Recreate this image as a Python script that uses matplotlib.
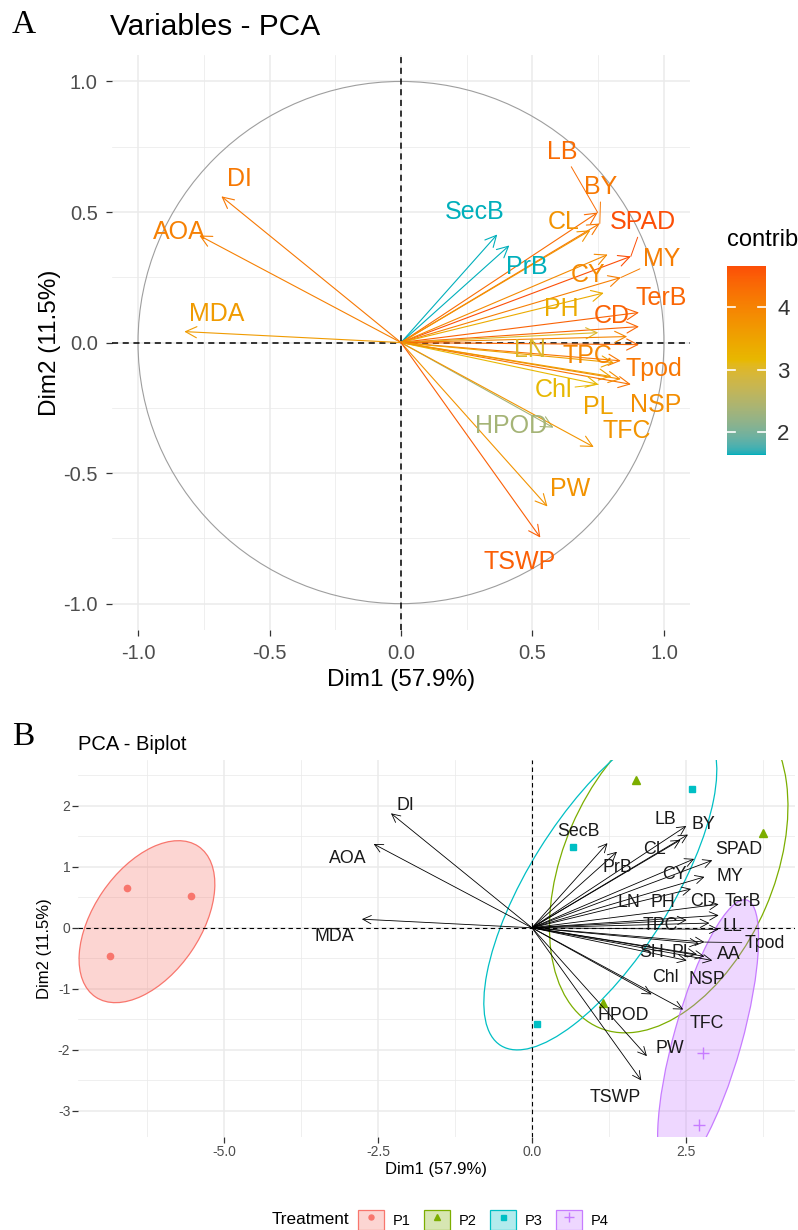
import numpy as np
import matplotlib.pyplot as plt
import matplotlib.colorbar as mcolorbar
from matplotlib.colors import ListedColormap, Normalize, to_rgb, to_rgba
from matplotlib.patches import Circle, Ellipse, Patch
from matplotlib.lines import Line2D
from matplotlib.legend_handler import HandlerTuple

plt.rcParams['font.family'] = ['Liberation Sans', 'DejaVu Sans']
plt.rcParams['axes.unicode_minus'] = False

# variable coordinates on Dim1 / Dim2 (correlation circle)
variables = ['DI', 'AOA', 'MDA', 'SecB', 'PrB', 'LB', 'BY', 'CL', 'SPAD', 'CY', 'MY', 'PH',
             'CD', 'TerB', 'LN', 'TPC', 'LL', 'Tpod', 'SH', 'PL', 'AA', 'Chl', 'NSP',
             'HPOD', 'TFC', 'PW', 'TSWP']
dim1 = [-0.683, -0.767, -0.824, 0.366, 0.412, 0.748, 0.756, 0.72, 0.874, 0.786, 0.836, 0.771,
        0.905, 0.905, 0.75, 0.86, 0.905, 0.836, 0.81, 0.80, 0.874, 0.75, 0.836,
        0.58, 0.733, 0.557, 0.53]
dim2 = [0.56, 0.41, 0.042, 0.414, 0.372, 0.498, 0.456, 0.43, 0.33, 0.337, 0.249, 0.19,
        0.115, 0.061, 0.038, 0.023, -0.008, -0.07, -0.077, -0.13, -0.16, -0.16, -0.14,
        -0.326, -0.40, -0.628, -0.747]
contrib = [4.16, 4.04, 3.63, 1.63, 1.64, 4.31, 4.16, 3.75, 4.66, 3.90, 4.06, 3.36,
           4.44, 4.39, 3.01, 3.95, 4.37, 4.17, 3.53, 3.51, 4.21, 3.14, 3.83,
           2.36, 3.72, 3.76, 4.48]

# individuals
groups = ['P1', 'P2', 'P3', 'P4']
ind_group = ['P1', 'P1', 'P1', 'P2', 'P2', 'P2', 'P3', 'P3', 'P3', 'P4', 'P4']
ind_x = [-6.57, -5.54, -6.85, 1.69, 3.75, 1.15, 2.60, 0.66, 0.08, 2.78, 2.71]
ind_y = [0.66, 0.52, -0.46, 2.43, 1.56, -1.23, 2.28, 1.33, -1.57, -2.05, -3.23]

# group ellipses (centre, semi axes, angle)
ell_cx = [-6.25, 2.22, 1.11, 2.86]
ell_cy = [0.10, 1.00, 0.68, -1.80]
ell_a = [1.49, 2.87, 3.07, 2.34]
ell_b = [0.87, 1.71, 1.16, 0.55]
ell_angle = [56, 66.8, 58.3, 74.5]
ell_fill = [0.3, 0.0, 0.0, 0.3]

# label placement (repelled positions as seen)
lab_a = [(-0.615, 0.625), (-0.844, 0.425), (-0.70, 0.11), (0.28, 0.50), (0.48, 0.29),
         (0.615, 0.73), (0.76, 0.595), (0.62, 0.46), (0.92, 0.46), (0.71, 0.26),
         (0.99, 0.32), (0.61, 0.13), (0.80, 0.10), (0.99, 0.17), (0.49, -0.03),
         (0.71, -0.05), None, (0.96, -0.10), None, (0.75, -0.245), None,
         (0.58, -0.18), (0.97, -0.24), (0.42, -0.32), (0.86, -0.34), (0.645, -0.56),
         (0.45, -0.84)]
seg_a = ['LB', 'BY', 'SPAD', 'MY', 'Chl']
lab_b = [(-2.06, 2.0), (-2.99, 1.13), (-3.21, -0.15), (0.75, 1.58), (1.38, 0.98),
         (2.16, 1.77), (2.78, 1.69), (1.99, 1.28), (3.35, 1.28), (2.32, 0.87),
         (3.21, 0.84), (2.13, 0.41), (2.78, 0.43), (3.42, 0.43), (1.57, 0.41),
         (2.08, 0.03), (3.26, 0.02), (3.78, -0.25), (1.95, -0.41), (2.45, -0.41),
         (3.19, -0.43), (2.16, -0.82), (2.84, -0.85), (1.48, -1.43), (2.84, -1.57),
         (2.24, -1.98), (1.35, -2.79)]
seg_b = ['Tpod']
biplot_scale = 3.35


# gradient interpolated in CIELAB, like ggplot's colour ramps
def to_lab(rgb):
    c = np.array(rgb, dtype=float)
    c = np.where(c <= 0.04045, c / 12.92, ((c + 0.055) / 1.055) ** 2.4)
    m = np.array([[0.4124, 0.3576, 0.1805], [0.2126, 0.7152, 0.0722], [0.0193, 0.1192, 0.9505]])
    xyz = m @ c / np.array([0.95047, 1.0, 1.08883])
    f = np.where(xyz > 0.008856, np.cbrt(xyz), 7.787 * xyz + 16 / 116)
    return np.array([116 * f[1] - 16, 500 * (f[0] - f[1]), 200 * (f[1] - f[2])])


def from_lab(lab):
    fy = (lab[0] + 16) / 116
    f = np.array([fy + lab[1] / 500, fy, fy - lab[2] / 200])
    xyz = np.where(f ** 3 > 0.008856, f ** 3, (f - 16 / 116) / 7.787) * np.array([0.95047, 1.0, 1.08883])
    m = np.array([[3.2406, -1.5372, -0.4986], [-0.9689, 1.8758, 0.0415], [0.0557, -0.2040, 1.0570]])
    c = m @ xyz
    c = np.where(c <= 0.0031308, 12.92 * c, 1.055 * np.clip(c, 0, None) ** (1 / 2.4) - 0.055)
    return np.clip(c, 0, 1)


grad_cols = ['#00AFBB', '#E7B800', '#FC4E07']
labs = [to_lab(to_rgb(h)) for h in grad_cols]
ramp = []
for t in np.linspace(0, 1, 256):
    s = t * (len(labs) - 1)
    k = min(int(s), len(labs) - 2)
    u = s - k
    ramp.append(from_lab(labs[k] * (1 - u) + labs[k + 1] * u))
cmap = ListedColormap(ramp)
norm = Normalize(vmin=min(contrib), vmax=max(contrib))

grp_col = {'P1': '#F8766D', 'P2': '#7CAE00', 'P3': '#00BFC4', 'P4': '#C77CFF'}
grp_mark = {'P1': 'o', 'P2': '^', 'P3': 's', 'P4': '+'}
grp_ms = {'P1': 4.5, 'P2': 5.5, 'P3': 4.5, 'P4': 9}


def style_axes(ax, tick_size, pad):
    for s in ax.spines.values():
        s.set_visible(False)
    ax.grid(True, which='major', color='#EBEBEB', lw=1.1, zorder=0)
    ax.grid(True, which='minor', color='#EBEBEB', lw=0.55, zorder=0)
    ax.tick_params(which='major', length=4, width=0.9, color='#333333',
                   labelsize=tick_size, labelcolor='#4D4D4D', pad=pad)
    ax.tick_params(which='minor', length=0)
    ax.set_axisbelow(True)


fig = plt.figure(figsize=(7.98, 12.30), dpi=100)

# ---------------- panel A ----------------
axA = fig.add_axes([0.140, 0.488, 0.725, 0.467])
axA.set_xlim(-1.1, 1.1)
axA.set_ylim(-1.1, 1.1)
axA.set_xticks([-1, -0.5, 0, 0.5, 1])
axA.set_xticklabels(['-1.0', '-0.5', '0.0', '0.5', '1.0'])
axA.set_yticks([-1, -0.5, 0, 0.5, 1])
axA.set_yticklabels(['-1.0', '-0.5', '0.0', '0.5', '1.0'])
axA.set_xticks([-0.75, -0.25, 0.25, 0.75], minor=True)
axA.set_yticks([-0.75, -0.25, 0.25, 0.75], minor=True)
style_axes(axA, 14.5, 6)

axA.add_patch(Circle((0, 0), 1, fill=False, color='#9E9E9E', lw=0.8, zorder=1))
axA.axhline(0, color='black', lw=1.1, ls=(0, (4, 3)), zorder=1)
axA.axvline(0, color='black', lw=1.1, ls=(0, (4, 3)), zorder=1)

for i, name in enumerate(variables):
    c = cmap(norm(contrib[i]))
    axA.annotate('', xy=(dim1[i], dim2[i]), xytext=(0, 0),
                 arrowprops=dict(arrowstyle='->,head_length=0.8,head_width=0.4',
                                 color=c, lw=0.8, shrinkA=0, shrinkB=0), zorder=3)
for i, name in enumerate(variables):
    if lab_a[i] is None:
        continue
    c = cmap(norm(contrib[i]))
    if name in seg_a:
        axA.annotate(name, xy=(dim1[i], dim2[i]), xytext=lab_a[i], color=c,
                     fontsize=18, ha='center', va='center',
                     arrowprops=dict(arrowstyle='-', color=c, lw=0.7,
                                     shrinkA=0, shrinkB=0), zorder=4)
    else:
        axA.text(lab_a[i][0], lab_a[i][1], name, color=c, fontsize=18,
                 ha='center', va='center', zorder=4)

axA.set_xlabel('Dim1 (57.9%)', fontsize=17.5)
axA.set_ylabel('Dim2 (11.5%)', fontsize=17.5)
axA.xaxis.set_label_coords(0.5, -0.087)
axA.xaxis.label.set_va('center')
axA.yaxis.set_label_coords(-0.107, 0.5)
axA.yaxis.label.set_va('center')

fig.text(110 / 798, 1 - 27 / 1230, 'Variables - PCA', fontsize=21.5, va='center')
fig.text(12 / 798, 1 - 25 / 1230, 'A', fontsize=24, va='center',
         family=['Liberation Serif', 'DejaVu Serif'])

# colour bar
cax = fig.add_axes([727 / 798, 1 - 455 / 1230, 39 / 798, (455 - 266) / 1230])
cb = mcolorbar.ColorbarBase(cax, cmap=cmap, norm=norm, orientation='vertical')
cb.outline.set_visible(False)
cb.set_ticks([2, 3, 4])
cax.tick_params(length=0, labelsize=16, labelcolor='#333333', pad=8)
for t in [2, 3, 4]:
    cax.plot([0, 0.2], [t, t], color='white', lw=1.2, transform=cax.get_yaxis_transform())
    cax.plot([0.8, 1.0], [t, t], color='white', lw=1.2, transform=cax.get_yaxis_transform())
fig.text(727 / 798, 1 - 240 / 1230, 'contrib', fontsize=17, va='center')

# ---------------- panel B ----------------
axB = fig.add_axes([0.0977, 0.0756, 0.8985, 0.3065])
axB.set_xlim(-7.37, 4.27)
axB.set_ylim(-3.43, 2.75)
axB.set_xticks([-5, -2.5, 0, 2.5])
axB.set_xticklabels(['-5.0', '-2.5', '0.0', '2.5'])
axB.set_xticks([-6.25, -3.75, -1.25, 1.25, 3.75], minor=True)
axB.set_yticks([-3, -2, -1, 0, 1, 2])
axB.set_yticklabels(['-3', '-2', '-1', '0', '1', '2'])
axB.set_yticks([-2.5, -1.5, -0.5, 0.5, 1.5, 2.5], minor=True)
style_axes(axB, 10, 1.5)

for k, g in enumerate(groups):
    col = grp_col[g]
    axB.add_patch(Ellipse((ell_cx[k], ell_cy[k]), 2 * ell_a[k], 2 * ell_b[k],
                          angle=ell_angle[k], facecolor=to_rgba(col, ell_fill[k]),
                          edgecolor=col, lw=0.9, zorder=1))

axB.axhline(0, color='black', lw=0.8, ls=(0, (4, 3)), zorder=2)
axB.axvline(0, color='black', lw=0.8, ls=(0, (4, 3)), zorder=2)

for g in groups:
    xs = [x for x, gg in zip(ind_x, ind_group) if gg == g]
    ys = [y for y, gg in zip(ind_y, ind_group) if gg == g]
    axB.plot(xs, ys, ls='none', marker=grp_mark[g], color=grp_col[g],
             ms=grp_ms[g], mew=1.0, zorder=3)

for i, name in enumerate(variables):
    tip = (dim1[i] * biplot_scale, dim2[i] * biplot_scale)
    axB.annotate('', xy=tip, xytext=(0, 0),
                 arrowprops=dict(arrowstyle='->,head_length=0.6,head_width=0.3',
                                 color='black', lw=0.6, shrinkA=0, shrinkB=0), zorder=4)
for i, name in enumerate(variables):
    tip = (dim1[i] * biplot_scale, dim2[i] * biplot_scale)
    if name in seg_b:
        axB.annotate(name, xy=tip, xytext=lab_b[i], color='#1A1A1A', fontsize=12.8,
                     ha='center', va='center',
                     arrowprops=dict(arrowstyle='-', color='#1A1A1A', lw=0.6,
                                     shrinkA=0, shrinkB=0), zorder=5)
    else:
        axB.text(lab_b[i][0], lab_b[i][1], name, color='#1A1A1A', fontsize=12.8,
                 ha='center', va='center', zorder=5)

axB.set_xlabel('Dim1 (57.9%)', fontsize=12)
axB.set_ylabel('Dim2 (11.5%)', fontsize=12)
axB.xaxis.set_label_coords(0.5, -0.0875)
axB.xaxis.label.set_va('center')
axB.yaxis.set_label_coords(-0.046, 0.5)
axB.yaxis.label.set_va('center')

fig.text(78 / 798, 1 - 745 / 1230, 'PCA - Biplot', fontsize=14.5, va='center')
fig.text(12 / 798, 1 - 737 / 1230, 'B', fontsize=24, va='center',
         family=['Liberation Serif', 'DejaVu Serif'])

# legend
fig.text(272 / 798, 1 - 1220 / 1230, 'Treatment', fontsize=12.3, va='center')
handles = []
for g in groups:
    box = Patch(facecolor=to_rgba(grp_col[g], 0.3), edgecolor=grp_col[g], lw=0.9)
    mk = Line2D([], [], ls='none', marker=grp_mark[g], color=grp_col[g],
                ms=grp_ms[g] * 0.8, mew=1.0)
    handles.append((box, mk))
fig.legend(handles, groups, handler_map={tuple: HandlerTuple(ndivide=1)},
           ncol=4, loc='center left', bbox_to_anchor=(358 / 798, 1 - 1220 / 1230),
           frameon=False, fontsize=10.5, handlelength=1.8, handleheight=1.8,
           handletextpad=0.6, columnspacing=0.9, borderpad=0, borderaxespad=0)

fig.savefig('out.png', dpi=100)
